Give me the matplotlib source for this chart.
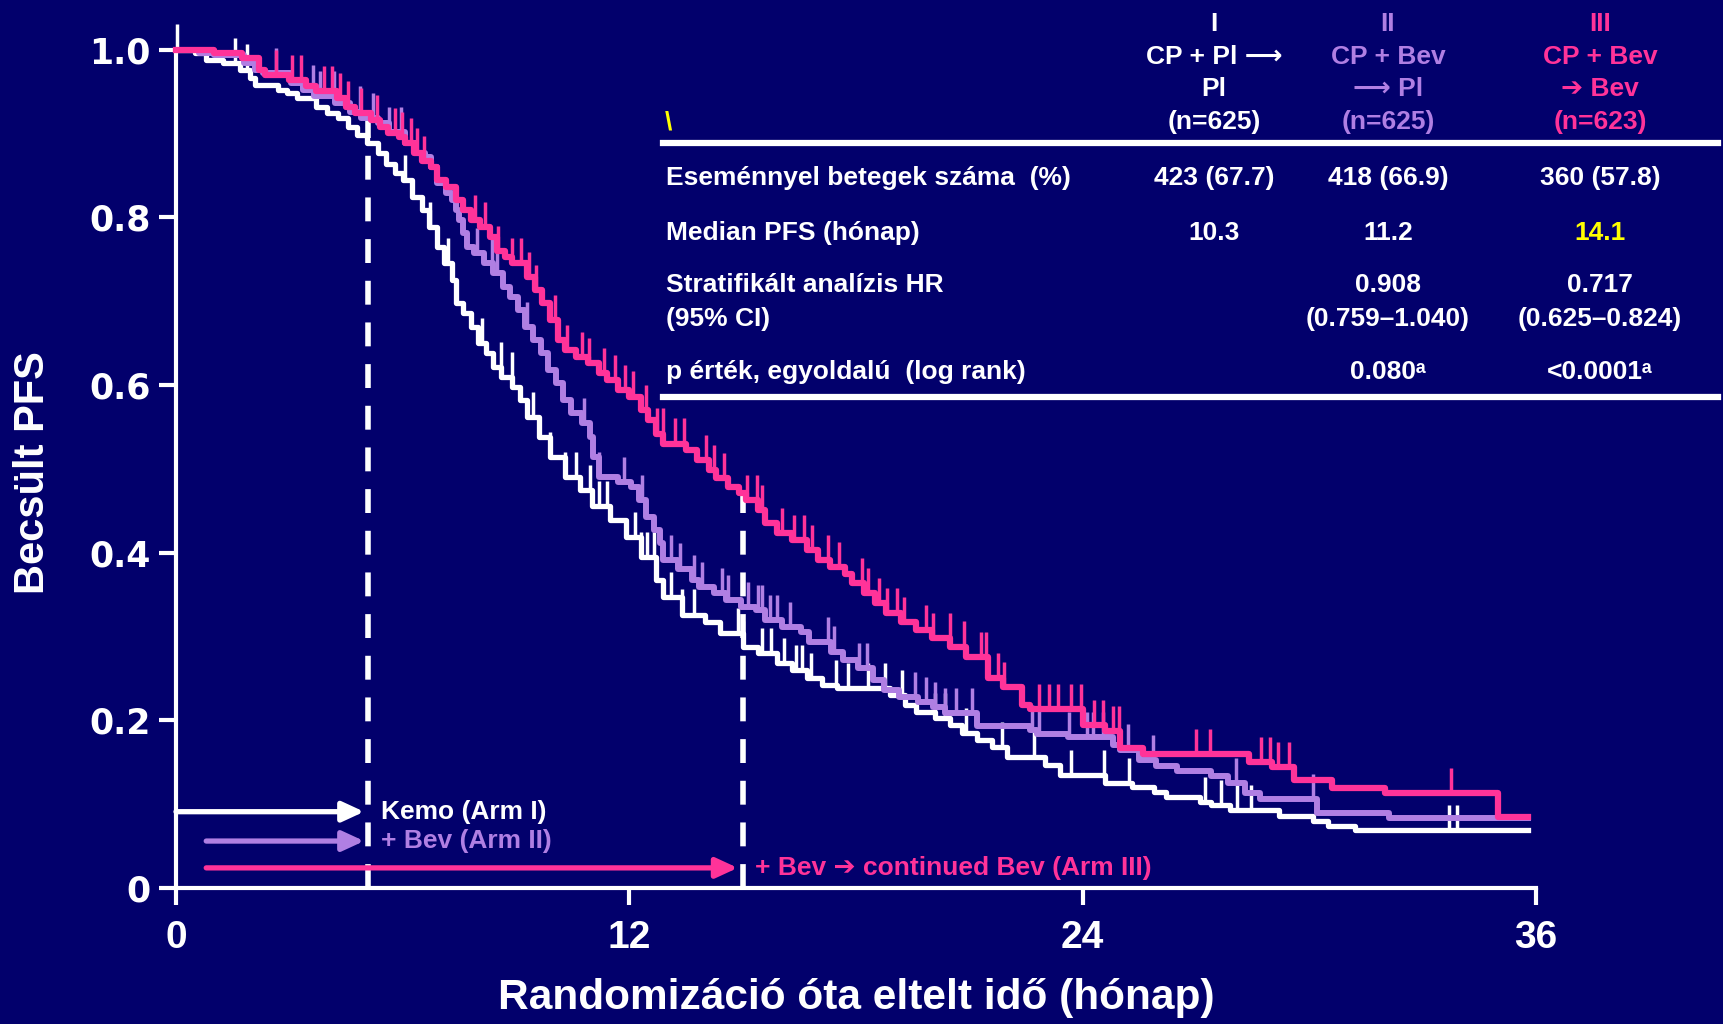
import numpy as np
import matplotlib.pyplot as plt
from matplotlib.lines import Line2D

plt.rcParams['font.family'] = ['Liberation Sans', 'DejaVu Sans']
plt.rcParams['font.weight'] = 'bold'

navy = '#02006c'
arm_colors = ['#ffffff', '#b07fe3', '#ff3399']
yellow = '#ffff00'

# Kaplan-Meier steps: (months since randomisation, estimated PFS)
arm1_steps = [(0, 1.0), (0.5, 0.996), (0.8, 0.988), (1.25, 0.984), (1.7, 0.976), (1.95, 0.966),
              (2.1, 0.958), (2.7, 0.952), (2.95, 0.948), (3.2, 0.942), (3.7, 0.932), (4.0, 0.924),
              (4.3, 0.918), (4.55, 0.908), (4.8, 0.898), (5.05, 0.888), (5.35, 0.877), (5.55, 0.864),
              (5.8, 0.853), (6.0, 0.844), (6.25, 0.824), (6.5, 0.808), (6.7, 0.788), (6.9, 0.764),
              (7.1, 0.745), (7.3, 0.725), (7.4, 0.698), (7.6, 0.686), (7.8, 0.669), (8.0, 0.65),
              (8.2, 0.638), (8.4, 0.621), (8.6, 0.609), (8.9, 0.598), (9.1, 0.582), (9.3, 0.562),
              (9.6, 0.538), (9.9, 0.514), (10.3, 0.49), (10.7, 0.475), (11.0, 0.455), (11.5, 0.439),
              (11.9, 0.419), (12.3, 0.395), (12.7, 0.367), (12.9, 0.347), (13.4, 0.326), (14.0, 0.317),
              (14.4, 0.304), (15.0, 0.288), (15.4, 0.28), (15.9, 0.268), (16.3, 0.26), (16.7, 0.25),
              (17.1, 0.242), (17.5, 0.238), (18.9, 0.23), (19.3, 0.218), (19.6, 0.21), (20.1, 0.203),
              (20.5, 0.194), (20.8, 0.185), (21.2, 0.177), (21.6, 0.168), (22.0, 0.156), (23.0, 0.147),
              (23.4, 0.135), (24.6, 0.125), (25.3, 0.12), (25.9, 0.114), (26.2, 0.108), (27.1, 0.102),
              (27.4, 0.099), (27.9, 0.093), (29.2, 0.086), (30.1, 0.08), (30.5, 0.074), (31.2, 0.069),
              (35.8, 0.069)]
arm2_steps = [(0, 1.0), (0.6, 0.996), (1.0, 0.993), (1.8, 0.984), (2.1, 0.976), (2.3, 0.972),
              (3.05, 0.96), (3.35, 0.952), (3.65, 0.944), (4.2, 0.936), (4.6, 0.926), (4.9, 0.918),
              (5.35, 0.912), (5.65, 0.902), (6.05, 0.888), (6.35, 0.876), (6.6, 0.872), (6.75, 0.86),
              (6.9, 0.841), (7.15, 0.829), (7.3, 0.82), (7.4, 0.808), (7.5, 0.797), (7.6, 0.781),
              (7.7, 0.764), (7.9, 0.757), (8.15, 0.745), (8.4, 0.733), (8.65, 0.717), (8.85, 0.705),
              (9.05, 0.689), (9.25, 0.669), (9.45, 0.654), (9.65, 0.638), (9.85, 0.618), (10.05, 0.602),
              (10.25, 0.582), (10.45, 0.566), (10.75, 0.554), (10.95, 0.538), (11.05, 0.514), (11.2, 0.49),
              (11.7, 0.484), (12.05, 0.478), (12.25, 0.463), (12.45, 0.443), (12.65, 0.427), (12.8, 0.411),
              (12.9, 0.391), (13.3, 0.381), (13.65, 0.367), (13.85, 0.359), (14.25, 0.352), (14.55, 0.343),
              (14.95, 0.335), (15.35, 0.331), (15.6, 0.32), (16.05, 0.311), (16.55, 0.305), (16.75, 0.293),
              (17.35, 0.282), (17.65, 0.272), (18.05, 0.262), (18.45, 0.248), (18.75, 0.236), (19.15, 0.228),
              (19.65, 0.222), (20.05, 0.216), (20.35, 0.209), (21.2, 0.193), (22.6, 0.188), (22.8, 0.184),
              (23.6, 0.18), (24.8, 0.171), (25.0, 0.165), (25.5, 0.153), (25.95, 0.145), (26.5, 0.139),
              (27.4, 0.133), (27.85, 0.125), (28.3, 0.113), (28.7, 0.106), (30.2, 0.09), (32.1, 0.083),
              (35.8, 0.083)]
arm3_steps = [(0, 1.0), (1.0, 0.996), (1.75, 0.99), (2.2, 0.976), (2.35, 0.97), (3.0, 0.964),
              (3.45, 0.956), (3.7, 0.95), (4.25, 0.942), (4.5, 0.932), (4.75, 0.924), (5.15, 0.916),
              (5.4, 0.908), (5.6, 0.9), (5.9, 0.896), (6.05, 0.888), (6.3, 0.876), (6.5, 0.867),
              (6.75, 0.86), (6.9, 0.844), (7.15, 0.836), (7.4, 0.82), (7.6, 0.808), (7.8, 0.797),
              (8.05, 0.788), (8.3, 0.776), (8.5, 0.76), (8.7, 0.753), (8.9, 0.745), (9.3, 0.729),
              (9.5, 0.713), (9.7, 0.698), (9.9, 0.677), (10.1, 0.654), (10.3, 0.642), (10.6, 0.633),
              (10.9, 0.626), (11.2, 0.614), (11.4, 0.606), (11.7, 0.594), (12.0, 0.586), (12.3, 0.57),
              (12.5, 0.558), (12.7, 0.542), (12.9, 0.53), (13.5, 0.522), (13.8, 0.51), (14.1, 0.498),
              (14.3, 0.489), (14.6, 0.478), (14.9, 0.471), (15.1, 0.463), (15.4, 0.451), (15.6, 0.435),
              (15.9, 0.423), (16.3, 0.415), (16.7, 0.403), (17.0, 0.391), (17.3, 0.383), (17.7, 0.375),
              (17.9, 0.364), (18.2, 0.352), (18.5, 0.34), (18.8, 0.328), (19.2, 0.317), (19.6, 0.308),
              (20.0, 0.298), (20.5, 0.288), (20.9, 0.275), (21.5, 0.25), (21.9, 0.24), (22.4, 0.218),
              (22.6, 0.213), (24.0, 0.194), (24.6, 0.187), (25.0, 0.167), (25.6, 0.16), (28.4, 0.15),
              (29.0, 0.144), (29.6, 0.129), (30.6, 0.119), (32.0, 0.113), (35.0, 0.085), (35.8, 0.085)]

# censoring times (months)
arm1_censored = [0.02, 1.57, 1.87, 6.06, 6.72, 7.2, 8.11, 8.59, 8.89, 9.45, 9.91, 10.3, 10.6, 10.95,
                 11.2, 11.4, 12.14, 12.3, 12.48, 12.64, 13.09, 13.4, 13.72, 14.87, 15.0, 15.52, 15.75,
                 16.09, 16.4, 16.57, 16.8, 17.47, 17.8, 18.33, 18.76, 19.23, 20.1, 20.35, 20.92, 21.86,
                 22.7, 23.7, 24.56, 25.22, 27.23, 27.65, 28.08, 28.45, 33.7, 33.92]
arm2_censored = [2.66, 3.62, 3.82, 4.18, 4.87, 5.22, 5.65, 5.95, 7.96, 8.37, 8.49, 9.3, 10.8, 11.2,
                 11.87, 12.34, 13.09, 13.33, 13.7, 13.92, 14.44, 14.61, 15.15, 15.41, 15.52, 15.72,
                 15.92, 16.26, 17.25, 17.41, 18.08, 18.28, 19.57, 19.84, 20.1, 20.35, 20.65, 21.08,
                 22.65, 22.85, 23.65, 24.12, 24.28, 24.54, 25.2, 25.86, 28.07, 30.1]
arm3_censored = [2.66, 3.08, 3.32, 3.93, 4.13, 4.33, 4.56, 4.89, 5.33, 5.8, 5.97, 6.21, 6.38, 6.56,
                 7.91, 8.17, 8.52, 8.9, 9.12, 9.35, 9.53, 10.03, 10.34, 10.74, 10.92, 11.33, 11.63,
                 11.89, 12.11, 12.44, 12.72, 12.89, 13.2, 13.45, 14.03, 14.24, 14.5, 15.11, 15.38,
                 15.52, 16.03, 16.37, 16.62, 16.84, 17.25, 17.54, 18.15, 18.33, 18.62, 18.83, 19.09,
                 19.27, 19.84, 20.04, 20.49, 20.85, 21.3, 21.43, 21.77, 21.93, 22.85, 23.11, 23.36,
                 23.69, 23.96, 24.31, 24.54, 24.8, 24.97, 27.0, 27.37, 28.71, 28.97, 29.18, 29.47, 33.74]

phase_ends = [5.07, 15.0]

arrow_labels = ['Kemo (Arm I)', '+ Bev (Arm II)', '+ Bev \u2794 continued Bev (Arm III)']
arrow_starts = [0.0, 0.8, 0.8]
arrow_ends = [4.98, 4.98, 14.87]
arrow_levels = [0.091, 0.056, 0.024]

header_lines = [['I', 'CP + Pl \u27f6', 'Pl', '(n=625)'],
                ['II', 'CP + Bev', '\u27f6 Pl', '(n=625)'],
                ['III', 'CP + Bev', '\u2794 Bev', '(n=623)']]
row_labels = ['Eseménnyel betegek száma  (%)', 'Median PFS (hónap)',
              'Stratifikált analízis HR', '(95% CI)', 'p érték, egyoldalú  (log rank)']
events = ['423 (67.7)', '418 (66.9)', '360 (57.8)']
median_pfs = ['10.3', '11.2', '14.1']
hazard_ratio = ['', '0.908', '0.717']
hr_ci = ['', '(0.759\u20131.040)', '(0.625\u20130.824)']
p_values = ['', '0.080\u1d43', '<0.0001\u1d43']

x_ticks = [0, 12, 24, 36]
y_ticks = [0, 0.2, 0.4, 0.6, 0.8, 1.0]
y_ticklabels = ['0', '0.2', '0.4', '0.6', '0.8', '1.0']


def surv_at(steps, times):
    t, s = np.array(steps).T
    idx = np.searchsorted(t, times, side='right') - 1
    return s[idx]


W, H = 1724, 1024


def fx(px):
    return px / W


def fy(py):
    return 1 - py / H


fig = plt.figure(figsize=(W / 100, H / 100), dpi=100, facecolor=navy)
ax = fig.add_axes([fx(176), fy(888), 1360 / W, 838.5 / H])
ax.set_facecolor(navy)

all_steps = [arm1_steps, arm2_steps, arm3_steps]
all_censored = [arm1_censored, arm2_censored, arm3_censored]
for steps, cens, color, lw in zip(all_steps, all_censored, arm_colors, [3.8, 4.3, 4.5]):
    t, s = np.array(steps).T
    ax.step(t, s, where='post', color=color, lw=lw, clip_on=False, zorder=3)
    c = np.array(cens)
    y = surv_at(steps, c)
    ax.vlines(c, y, y + 0.03, colors=color, lw=2.5, clip_on=False, zorder=3)

# end of chemotherapy and end of bevacizumab phases
ax.vlines(phase_ends, 0, surv_at(arm3_steps, phase_ends), colors='white', lw=4,
          linestyles=[(0, (4.3, 3.2))], zorder=2)

for lab, x0, x1, yv, color in zip(arrow_labels, arrow_starts, arrow_ends, arrow_levels, arm_colors):
    ax.annotate('', xy=(x1, yv), xytext=(x0, yv),
                arrowprops=dict(arrowstyle='-|>,head_length=0.65,head_width=0.3', color=color,
                                lw=3.8, shrinkA=0, shrinkB=0, mutation_scale=20), zorder=4)
    ax.text(x1 + 0.45, yv, lab, color=color, fontsize=19, va='center', ha='left',
            family=['Liberation Sans', 'DejaVu Sans'])

ax.set_xlim(0, 36)
ax.set_ylim(0, 1)
ax.set_xticks(x_ticks, labels=[str(v) for v in x_ticks], fontsize=28, fontweight='bold', color='white')
ax.set_yticks(y_ticks, labels=y_ticklabels, fontsize=25, fontweight='bold', color='white',
              family='DejaVu Sans')
ax.tick_params(axis='both', colors='white', width=3, length=12, direction='out')
ax.tick_params(axis='x', pad=11)
ax.tick_params(axis='y', pad=6)
for side in ['top', 'right']:
    ax.spines[side].set_visible(False)
for side in ['left', 'bottom']:
    ax.spines[side].set_color('white')
    ax.spines[side].set_linewidth(3)

ax.set_xlabel('Randomizáció óta eltelt idő (hónap)', fontsize=30.5, fontweight='bold', color='white')
ax.xaxis.set_label_coords(0.5, -0.131)
ax.xaxis.label.set_va('center')
ax.set_ylabel('Becsült PFS', fontsize=30, fontweight='bold', color='white')
ax.yaxis.set_label_coords(-0.105, 0.496)
ax.yaxis.label.set_va('center')

# summary table in the upper right
col_x = [1214, 1388, 1600]
head_y = [24, 57, 89, 122]
for cx, lines, color in zip(col_x, header_lines, arm_colors):
    for yy, line in zip(head_y, lines):
        fig.text(fx(cx), fy(yy), line, color=color, fontsize=19, ha='center', va='center',
                 family=['Liberation Sans', 'DejaVu Sans'])
fig.text(fx(668), fy(122), '\\', color=yellow, fontsize=19, ha='center', va='center')

for yy in [143, 397]:
    fig.add_artist(Line2D([fx(663), fx(1718)], [fy(yy), fy(yy)], color='white', lw=4.5,
                          transform=fig.transFigure))

row_y = [178, 233, 285, 319, 372]
for yy, lab in zip(row_y, row_labels):
    fig.text(fx(666), fy(yy), lab, color='white', fontsize=19, ha='left', va='center')

value_rows = [events, median_pfs, hazard_ratio, hr_ci, p_values]
for yy, row in zip(row_y, value_rows):
    for i, (cx, val) in enumerate(zip(col_x, row)):
        color = yellow if row is median_pfs and i == 2 else 'white'
        fig.text(fx(cx), fy(yy), val, color=color, fontsize=19, ha='center', va='center',
                 family=['Liberation Sans', 'DejaVu Sans'])

fig.savefig('out.png', dpi=100, facecolor=navy)
